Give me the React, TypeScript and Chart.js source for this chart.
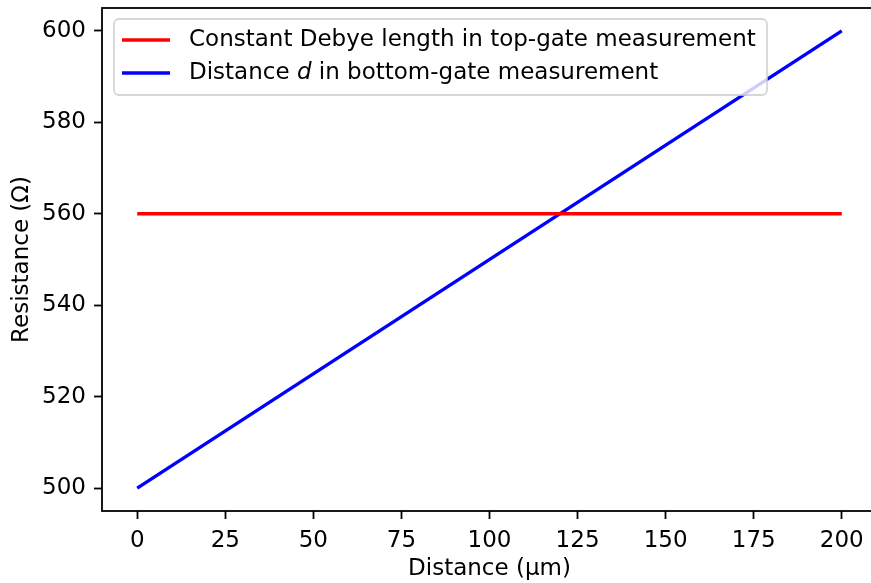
import React, { useEffect, useRef } from 'react';
import { Chart, registerables } from 'chart.js';

Chart.register(...registerables);

// ---- data ----
const distance = [0, 200];
const topGateResistance = [560, 560];
const bottomGateResistance = [500, 600];
const xTicks = [0, 25, 50, 75, 100, 125, 150, 175, 200];
const yTicks = [500, 520, 540, 560, 580, 600];
const xTitle = 'Distance (μm)';
const yTitle = 'Resistance (Ω)';
const topGateLabel = [{ text: 'Constant Debye length in top-gate measurement', italic: false }];
const bottomGateLabel = [
  { text: 'Distance ', italic: false },
  { text: 'd', italic: true },
  { text: ' in bottom-gate measurement', italic: false },
];
const seriesColors = ['#ff0000', '#0000ff'];

const FONT = "'DejaVu Sans'";
const FS = 23;
const CANVAS_W = 900;
const PLOT_RIGHT = 877;

const boxPlugin = {
  id: 'axesBox',
  afterDatasetsDraw(chart: any) {
    const { ctx, chartArea } = chart;
    ctx.save();
    ctx.strokeStyle = '#000';
    ctx.lineWidth = 1.8;
    ctx.strokeRect(chartArea.left, chartArea.top, chartArea.right - chartArea.left, chartArea.bottom - chartArea.top);
    ctx.restore();
  },
};

const legendPlugin = {
  id: 'mplLegend',
  afterDatasetsDraw(chart: any) {
    const { ctx } = chart;
    const x0 = 114, y0 = 19, w = 653, h = 76, r = 5;
    ctx.save();
    ctx.beginPath();
    ctx.moveTo(x0 + r, y0);
    ctx.lineTo(x0 + w - r, y0);
    ctx.arcTo(x0 + w, y0, x0 + w, y0 + r, r);
    ctx.lineTo(x0 + w, y0 + h - r);
    ctx.arcTo(x0 + w, y0 + h, x0 + w - r, y0 + h, r);
    ctx.lineTo(x0 + r, y0 + h);
    ctx.arcTo(x0, y0 + h, x0, y0 + h - r, r);
    ctx.lineTo(x0, y0 + r);
    ctx.arcTo(x0, y0, x0 + r, y0, r);
    ctx.closePath();
    ctx.fillStyle = 'rgba(255,255,255,0.8)';
    ctx.fill();
    ctx.strokeStyle = 'rgba(204,204,204,0.8)';
    ctx.lineWidth = 1.8;
    ctx.stroke();

    const rows = [topGateLabel, bottomGateLabel];
    const rowY = [40, 73];
    rows.forEach((segs, i) => {
      ctx.strokeStyle = seriesColors[i];
      ctx.lineWidth = 3.4;
      ctx.beginPath();
      ctx.moveTo(122, rowY[i]);
      ctx.lineTo(170, rowY[i]);
      ctx.stroke();
      let tx = 189;
      ctx.fillStyle = '#000';
      ctx.textBaseline = 'middle';
      ctx.textAlign = 'left';
      segs.forEach((s) => {
        ctx.font = `${s.italic ? 'italic ' : ''}${FS}px ${FONT}`;
        ctx.fillText(s.text, tx, rowY[i]);
        tx += ctx.measureText(s.text).width;
      });
    });
    ctx.restore();
  },
};

export default function App() {
  const ref = useRef<HTMLCanvasElement>(null);
  useEffect(() => {
    if (!ref.current) return;
    Chart.defaults.color = '#000';
    const chart = new Chart(ref.current, {
      type: 'line',
      data: {
        datasets: [
          {
            label: topGateLabel.map((s) => s.text).join(''),
            data: distance.map((x, i) => ({ x, y: topGateResistance[i] })),
            borderColor: seriesColors[0],
            borderWidth: 3.4,
            pointRadius: 0,
            fill: false,
          },
          {
            label: bottomGateLabel.map((s) => s.text).join(''),
            data: distance.map((x, i) => ({ x, y: bottomGateResistance[i] })),
            borderColor: seriesColors[1],
            borderWidth: 3.4,
            pointRadius: 0,
            fill: false,
          },
        ],
      },
      options: {
        responsive: false,
        maintainAspectRatio: false,
        animation: false,
        devicePixelRatio: 1,
        layout: { padding: { left: 0, top: 8, right: CANVAS_W - PLOT_RIGHT, bottom: 0 } },
        plugins: { legend: { display: false }, tooltip: { enabled: false } },
        scales: {
          x: {
            type: 'linear',
            min: -10,
            max: 210,
            afterBuildTicks: (s: any) => { s.ticks = xTicks.map((v) => ({ value: v })); },
            afterFit: (s: any) => { s.height = 72; s.paddingLeft = 0; s.paddingRight = 0; },
            border: { display: false },
            grid: { drawOnChartArea: false, drawTicks: true, tickLength: 8, tickColor: '#000', tickWidth: 1.8 },
            ticks: { font: { family: FONT, size: FS }, color: '#000', padding: 8, maxRotation: 0, autoSkip: false },
            title: { display: true, text: xTitle, font: { family: FONT, size: FS }, color: '#000', padding: { top: 0, bottom: 0 } },
          },
          y: {
            type: 'linear',
            min: 495,
            max: 605,
            afterBuildTicks: (s: any) => { s.ticks = yTicks.map((v) => ({ value: v })); },
            afterFit: (s: any) => { s.width = 102; s.paddingTop = 0; s.paddingBottom = 0; },
            border: { display: false },
            grid: { drawOnChartArea: false, drawTicks: true, tickLength: 8, tickColor: '#000', tickWidth: 1.8 },
            ticks: { font: { family: FONT, size: FS }, color: '#000', padding: 8, autoSkip: false },
            title: { display: true, text: yTitle, font: { family: FONT, size: FS }, color: '#000', padding: { top: 8, bottom: 0 } },
          },
        },
      },
      plugins: [boxPlugin, legendPlugin],
    } as any);
    return () => chart.destroy();
  }, []);
  return (
    <div style={{ position: 'absolute', left: 0, top: 0, width: 871, height: 583, overflow: 'hidden', background: '#fff' }}>
      <canvas ref={ref} width={CANVAS_W} height={583} style={{ width: CANVAS_W, height: 583, display: 'block' }} />
    </div>
  );
}
